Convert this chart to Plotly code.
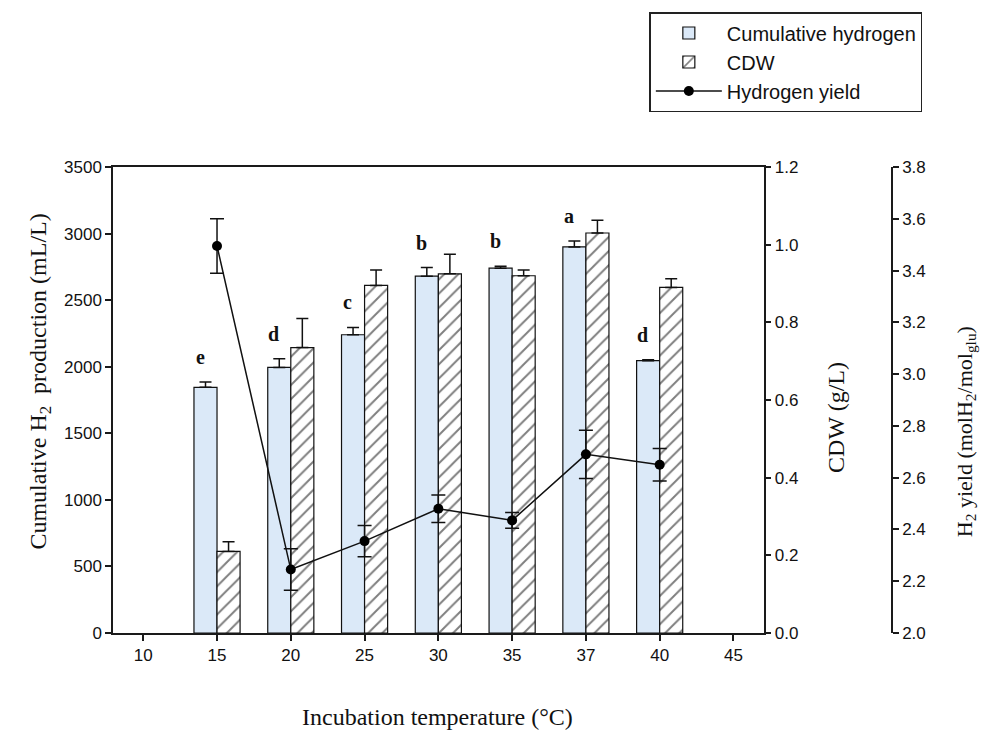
import plotly.graph_objects as go

# ---------------- data ----------------
all_temps = ["10", "15", "20", "25", "30", "35", "37", "40", "45"]
temps = ["15", "20", "25", "30", "35", "37", "40"]
h2_cum = [1845, 1995, 2240, 2680, 2740, 2900, 2045]
h2_cum_err = [40, 65, 55, 65, 15, 45, 8]
cdw = [0.21, 0.735, 0.895, 0.925, 0.92, 1.03, 0.89]
cdw_err = [0.025, 0.075, 0.04, 0.05, 0.015, 0.033, 0.022]
h2_yield = [3.495, 2.245, 2.355, 2.48, 2.435, 2.69, 2.65]
h2_yield_err = [0.105, 0.08, 0.06, 0.053, 0.03, 0.093, 0.063]
letters = ["e", "d", "c", "b", "b", "a", "d"]

SANS = "Liberation Sans, Arial, sans-serif"
SERIF = "Liberation Serif, Times New Roman, serif"
AX = "#1a1a1a"
BW = 0.3125

fig = go.Figure()

fig.add_trace(go.Bar(
    x=temps, y=h2_cum, name="Cumulative hydrogen",
    offset=-BW, width=BW,
    marker=dict(color="#dbe9f8", line=dict(color="#111", width=1.2)),
    error_y=dict(type="data", array=h2_cum_err, arrayminus=[0] * len(temps),
                 symmetric=False, color="#111", thickness=1.5, width=6),
    yaxis="y",
))

fig.add_trace(go.Bar(
    x=temps, y=cdw, name="CDW",
    offset=0, width=BW,
    marker=dict(color="white", line=dict(color="#111", width=1.2),
                pattern=dict(shape="/", fgcolor="#000", bgcolor="white",
                             size=10, solidity=0.2)),
    error_y=dict(type="data", array=cdw_err, arrayminus=[0] * len(temps),
                 symmetric=False, color="#111", thickness=1.5, width=6),
    yaxis="y2",
))

fig.add_trace(go.Scatter(
    x=temps, y=h2_yield, name="Hydrogen yield",
    mode="lines+markers",
    line=dict(color="#111", width=1.5),
    marker=dict(color="#000", size=10, symbol="circle"),
    error_y=dict(type="data", array=h2_yield_err, color="#111",
                 thickness=1.5, width=7),
    yaxis="y3",
))

annotations = []
for t, v, e, L in zip(temps, h2_cum, h2_cum_err, letters):
    annotations.append(dict(
        x=all_temps.index(t), y=v + e, xref="x", yref="y", text="<b>" + L + "</b>",
        showarrow=False, xshift=-17, yshift=25, yanchor="middle",
        font=dict(family=SERIF, size=20, color="#111"),
    ))

fig.update_layout(
    width=985, height=731,
    margin=dict(l=113, r=93, t=167, b=98),
    paper_bgcolor="white", plot_bgcolor="white",
    showlegend=True,
    legend=dict(x=0.6885, y=1.3326, xanchor="left", yanchor="top",
                bordercolor="#222", borderwidth=1.5, itemwidth=66,
                font=dict(family=SANS, size=20, color="#111"),
                bgcolor="white", tracegroupgap=0),
    xaxis=dict(domain=[0, 0.8353], type="category",
               categoryorder="array", categoryarray=all_temps,
               range=[-0.41, 8.41],
               showline=True, linecolor=AX, linewidth=1.5, mirror=True,
               ticks="outside", ticklen=6, tickcolor=AX, tickwidth=1.5,
               tickfont=dict(family=SANS, size=17, color="#111"),
               showgrid=False, zeroline=False),
    yaxis=dict(range=[0, 3500], dtick=500, tick0=0,
               showline=True, linecolor=AX, linewidth=1.5,
               ticks="outside", ticklen=6, tickcolor=AX, tickwidth=1.5,
               tickfont=dict(family=SANS, size=17, color="#111"),
               showgrid=False, zeroline=False),
    yaxis2=dict(range=[0, 1.2], dtick=0.2, tick0=0, tickformat=".1f",
                overlaying="y", side="right", anchor="x",
                showline=True, linecolor=AX, linewidth=1.5,
                ticks="outside", ticklen=6, tickcolor=AX, tickwidth=1.5,
                tickfont=dict(family=SANS, size=17, color="#111"),
                showgrid=False, zeroline=False),
    yaxis3=dict(range=[2.0, 3.8], dtick=0.2, tick0=2.0, tickformat=".1f",
                overlaying="y", side="right", anchor="free", position=1.0,
                showline=True, linecolor=AX, linewidth=1.5,
                ticks="outside", ticklen=6, tickcolor=AX, tickwidth=1.5,
                tickfont=dict(family=SANS, size=17, color="#111"),
                showgrid=False, zeroline=False),
    annotations=annotations + [
        dict(text="Incubation temperature (°C)", xref="paper", yref="paper",
             x=0.417, y=-0.18, showarrow=False, xanchor="center", yanchor="middle",
             font=dict(family=SERIF, size=24, color="#111")),
        dict(text="Cumulative H<sub>2</sub>  production (mL/L)", xref="paper", yref="paper",
             x=-0.094, y=0.539, showarrow=False, textangle=-90,
             xanchor="center", yanchor="middle",
             font=dict(family=SERIF, size=24, color="#111")),
        dict(text="CDW (g/L)", xref="paper", yref="paper",
             x=0.928, y=0.4635, showarrow=False, textangle=-90,
             xanchor="center", yanchor="middle",
             font=dict(family=SERIF, size=24, color="#111")),
        dict(text="H<sub>2</sub> yield (molH<sub>2</sub>/mol<sub>glu</sub>)",
             xref="paper", yref="paper",
             x=1.095, y=0.431, showarrow=False, textangle=-90,
             xanchor="center", yanchor="middle",
             font=dict(family=SERIF, size=22, color="#111")),
    ],
)

fig.write_html("out.html")
